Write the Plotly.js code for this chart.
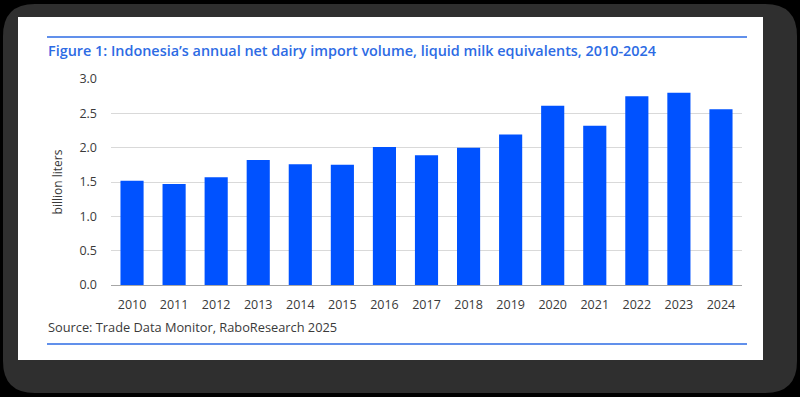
<!DOCTYPE html>
<html>
<head>
<meta charset="utf-8">
<script src="https://cdn.plot.ly/plotly-3.0.1.min.js"></script>
<style>html,body{margin:0;padding:0;background:#000;}#chart{width:800px;height:397px;}</style>
</head>
<body>
<div id="chart"></div>
<script>
// Data
const years = ['2010','2011','2012','2013','2014','2015','2016','2017','2018','2019','2020','2021','2022','2023','2024'];
const volumes = [1.52, 1.47, 1.57, 1.82, 1.76, 1.75, 2.01, 1.89, 2.00, 2.19, 2.61, 2.32, 2.75, 2.80, 2.56];
const yTicks = [0, 0.5, 1.0, 1.5, 2.0, 2.5, 3.0];
const titleText = 'Figure 1: Indonesia\u2019s annual net dairy import volume, liquid milk equivalents, 2010-2024';
const sourceText = 'Source: Trade Data Monitor, RaboResearch 2025';
const yTitle = 'billion liters';

// Layout geometry (pixels)
const W = 800, Hh = 397;
const M = {l: 111, r: 58, t: 79, b: 112};
const PW = W - M.l - M.r, PH = Hh - M.t - M.b;
const px = x => (x - M.l) / PW;
const py = y => (Hh - M.b - y) / PH;

function roundRect(x0, y0, x1, y1, r) {
  const X0 = px(x0), X1 = px(x1), Y0 = py(y0), Y1 = py(y1);
  const rx = r / PW, ry = r / PH;
  return `M ${X0 + rx} ${Y0} L ${X1 - rx} ${Y0} Q ${X1} ${Y0} ${X1} ${Y0 - ry} ` +
         `L ${X1} ${Y1 + ry} Q ${X1} ${Y1} ${X1 - rx} ${Y1} L ${X0 + rx} ${Y1} ` +
         `Q ${X0} ${Y1} ${X0} ${Y1 + ry} L ${X0} ${Y0 - ry} Q ${X0} ${Y0} ${X0 + rx} ${Y0} Z`;
}

const blue = '#2D6BE4';
const textGray = '#3a3a3a';

const trace = {
  type: 'bar',
  x: years,
  y: volumes,
  marker: {color: '#0052FF', line: {width: 0}},
  hoverinfo: 'x+y'
};

const layout = {
  width: W, height: Hh,
  margin: M,
  paper_bgcolor: '#000000',
  plot_bgcolor: 'rgba(0,0,0,0)',
  showlegend: false,
  bargap: 0.45,
  font: {family: 'Open Sans, sans-serif', color: textGray, size: 12},
  xaxis: {
    type: 'category',
    tickvals: years,
    ticktext: years,
    showgrid: false,
    showline: true,
    linecolor: '#a6a6a6',
    linewidth: 1,
    ticks: '',
    ticklabelstandoff: 8,
    tickfont: {size: 12.5, color: textGray},
    fixedrange: true
  },
  yaxis: {
    range: [0, 3.0],
    tickvals: yTicks,
    ticktext: yTicks.map(v => v.toFixed(1)),
    showgrid: true,
    gridcolor: '#d9d9d9',
    gridwidth: 1,
    zeroline: false,
    showline: false,
    ticks: '',
    ticklabelstandoff: 13,
    tickfont: {size: 12.5, color: textGray},
    title: {text: yTitle, font: {size: 12, color: textGray}, standoff: 14},
    fixedrange: true
  },
  shapes: [
    {type: 'path', xref: 'paper', yref: 'paper', layer: 'below',
     path: roundRect(3, 4, 797, 393, 32), fillcolor: '#2f2f2f', line: {width: 0}},
    {type: 'rect', xref: 'paper', yref: 'paper', layer: 'below',
     x0: px(18), x1: px(763), y0: py(17), y1: py(360), fillcolor: '#ffffff', line: {width: 0}},
    {type: 'line', xref: 'paper', yref: 'paper',
     x0: px(47), x1: px(747), y0: py(37), y1: py(37), line: {color: blue, width: 1.5}},
    {type: 'line', xref: 'paper', yref: 'paper',
     x0: px(47), x1: px(747), y0: py(344), y1: py(344), line: {color: blue, width: 1.5}}
  ],
  annotations: [
    {text: titleText, xref: 'paper', yref: 'paper', x: px(46), y: py(50),
     xanchor: 'left', yanchor: 'middle', showarrow: false,
     font: {size: 14.4, color: blue, weight: 600, family: 'Open Sans, sans-serif'}},
    {text: sourceText, xref: 'paper', yref: 'paper', x: px(46), y: py(327),
     xanchor: 'left', yanchor: 'middle', showarrow: false,
     font: {size: 12.8, color: textGray, family: 'Open Sans, sans-serif'}}
  ]
};

Plotly.newPlot('chart', [trace], layout, {displayModeBar: false, staticPlot: true});
</script>
</body>
</html>
